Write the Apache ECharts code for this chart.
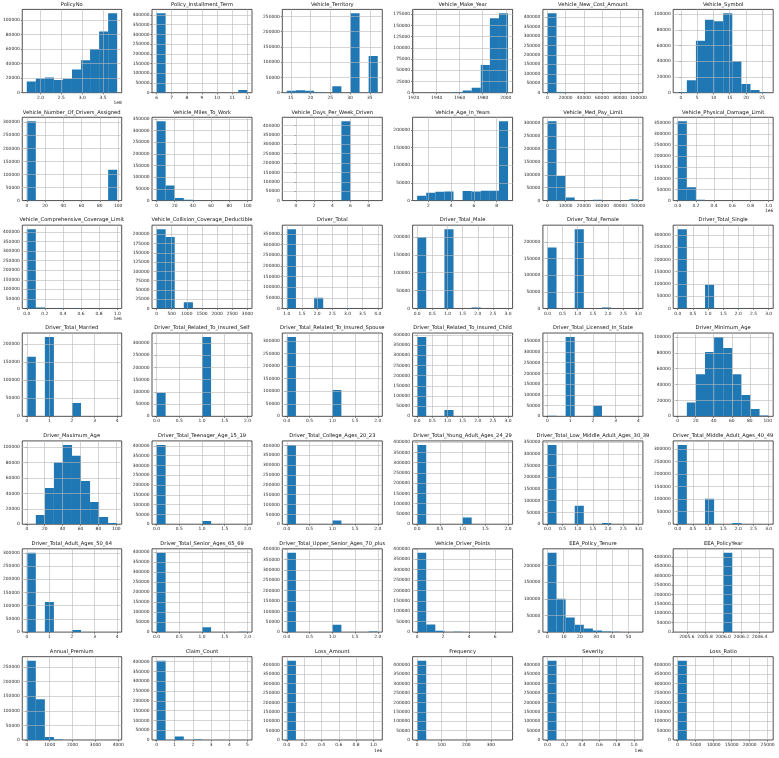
<!DOCTYPE html>
<html><head><meta charset="utf-8">
<script src="https://cdn.jsdelivr.net/npm/echarts@6/dist/echarts.min.js"></script>
<style>html,body{margin:0;padding:0;background:#fff}#c{width:779px;height:758px}</style>
</head><body><div id="c"></div>
<script>
const titles = ['PolicyNo','Policy_Installment_Term','Vehicle_Territory','Vehicle_Make_Year','Vehicle_New_Cost_Amount','Vehicle_Symbol',
'Vehicle_Number_Of_Drivers_Assigned','Vehicle_Miles_To_Work','Vehicle_Days_Per_Week_Driven','Vehicle_Age_In_Years','Vehicle_Med_Pay_Limit','Vehicle_Physical_Damage_Limit',
'Vehicle_Comprehensive_Coverage_Limit','Vehicle_Collision_Coverage_Deductible','Driver_Total','Driver_Total_Male','Driver_Total_Female','Driver_Total_Single',
'Driver_Total_Married','Driver_Total_Related_To_Insured_Self','Driver_Total_Related_To_Insured_Spouse','Driver_Total_Related_To_Insured_Child','Driver_Total_Licensed_In_State','Driver_Minimum_Age',
'Driver_Maximum_Age','Driver_Total_Teenager_Age_15_19','Driver_Total_College_Ages_20_23','Driver_Total_Young_Adult_Ages_24_29','Driver_Total_Low_Middle_Adult_Ages_30_39','Driver_Total_Middle_Adult_Ages_40_49',
'Driver_Total_Adult_Ages_50_64','Driver_Total_Senior_Ages_65_69','Driver_Total_Upper_Senior_Ages_70_plus','Vehicle_Driver_Points','EEA_Policy_Tenure','EEA_PolicyYear',
'Annual_Premium','Claim_Count','Loss_Amount','Frequency','Severity','Loss_Ratio'];

// histogram range (first bin edge, last bin edge) for each column; 10 equal bins
const binLo = [1.67e8, 6, 14, 1923, 0, -1,
  0, 0, -1, 1, 0, 0,
  0, 0, 1, 0, 0, 0,
  0, 0, 0, 0, 0, 0,
  0, 0, 0, 0, 0, 0,
  0, 0, 0, 0, 0, 2005.5,
  0, 0, 0, 0, 0, 0];
const binHi = [3.84e8, 12, 37, 2002, 100000, 27,
  99, 100, 9, 9, 50000, 1e6,
  1e6, 3000, 4, 3, 3, 3,
  4, 2, 2, 3, 4, 101,
  101, 2, 2, 2, 3, 3,
  4, 2, 2, 7, 56, 2006.5,
  3950, 5, 1.05e6, 370, 1.05e6, 25300];

const counts = [
  [15500,19500,21000,17500,19000,32000,44500,60000,84000,109000],
  [408000,0,0,0,0,0,0,0,0,14000],
  [6000,8000,6000,1500,0,21000,0,260000,0,120000],
  [50,50,50,100,1000,5000,11000,62000,166000,177000],
  [419500,2000,300,100,0,0,50,0,0,50],
  [1000,16000,66000,93000,91000,101000,40000,11000,3500,500],
  [304000,0,0,0,0,0,0,0,0,118000],
  [340000,65000,11000,3500,1500,600,200,100,50,50],
  [0,0,0,0,0,0,422000,0,0,0],
  [14000,22000,25000,26000,0,27000,26000,28000,28000,225000],
  [308000,95000,12000,0,0,3000,0,0,0,5000],
  [358000,60000,4000,300,100,50,0,0,0,20],
  [415000,5500,200,1000,100,700,0,0,0,100],
  [214000,193000,0,17000,0,0,0,0,0,0],
  [372000,0,0,50000,0,0,600,0,0,100],
  [199000,0,0,222000,0,0,2500,0,0,100],
  [183000,0,0,238000,0,0,3000,0,0,100],
  [324000,0,0,97000,0,0,1000,0,0,50],
  [165000,0,220000,0,0,37000,0,200,0,50],
  [97000,0,0,0,0,325000,0,0,0,300],
  [316000,0,0,0,0,105000,0,0,0,200],
  [390000,0,0,31000,0,0,800,0,0,100],
  [2500,0,370000,0,0,49000,0,500,0,100],
  [200,17500,53000,81000,100000,86000,53000,27000,9200,1200],
  [100,12000,47000,80000,103000,89000,56000,29000,9500,1500],
  [405000,0,0,0,0,17000,0,0,0,300],
  [403000,0,0,0,0,19000,0,0,0,300],
  [387000,0,0,0,0,33000,0,0,0,1500],
  [338000,0,0,79000,0,0,5000,0,0,200],
  [316000,0,0,101000,0,0,5000,0,0,100],
  [300000,0,114000,0,0,8000,0,100,0,50],
  [397000,0,0,0,0,24000,0,0,0,1500],
  [383000,0,0,0,0,36000,0,0,0,2500],
  [381000,36000,6000,0,2000,500,0,100,0,50],
  [238000,100000,44000,22000,11000,5000,2000,800,300,100],
  [0,0,0,0,0,422000,0,0,0,0],
  [272000,140000,10000,1500,300,100,50,20,10,10],
  [405000,0,18000,0,2000,0,300,0,50,10],
  [422000,50,20,10,0,0,0,0,0,10],
  [422000,50,20,10,0,0,0,0,0,10],
  [422000,50,20,10,0,0,0,0,0,10],
  [422000,30,10,0,0,0,0,0,0,10]
];

const xTicks = [
  [2.0e8,2.5e8,3.0e8,3.5e8],[6,7,8,9,10,11,12],[15,20,25,30,35],[1920,1940,1960,1980,2000],[0,20000,40000,60000,80000,100000],[0,5,10,15,20,25],
  [0,20,40,60,80,100],[0,20,40,60,80,100],[0,2,4,6,8],[2,4,6,8],[0,10000,20000,30000,40000,50000],[0,2e5,4e5,6e5,8e5,1e6],
  [0,2e5,4e5,6e5,8e5,1e6],[0,500,1000,1500,2000,2500,3000],[1,1.5,2,2.5,3,3.5,4],[0,0.5,1,1.5,2,2.5,3],[0,0.5,1,1.5,2,2.5,3],[0,0.5,1,1.5,2,2.5,3],
  [0,1,2,3,4],[0,0.5,1,1.5,2],[0,0.5,1,1.5,2],[0,0.5,1,1.5,2,2.5,3],[0,1,2,3,4],[0,20,40,60,80,100],
  [0,20,40,60,80,100],[0,0.5,1,1.5,2],[0,0.5,1,1.5,2],[0,0.5,1,1.5,2],[0,0.5,1,1.5,2,2.5,3],[0,0.5,1,1.5,2,2.5,3],
  [0,1,2,3,4],[0,0.5,1,1.5,2],[0,0.5,1,1.5,2],[0,2,4,6],[0,10,20,30,40,50],[2005.6,2005.8,2006.0,2006.2,2006.4],
  [0,1000,2000,3000,4000],[0,1,2,3,4,5],[0,2e5,4e5,6e5,8e5,1e6],[0,100,200,300],[0,2e5,4e5,6e5,8e5,1e6],[0,5000,10000,15000,20000,25000]
];

const yStep = [20000,50000,50000,25000,50000,20000,
  50000,50000,50000,50000,50000,50000,
  50000,25000,50000,50000,50000,50000,
  50000,50000,50000,50000,50000,20000,
  20000,50000,50000,50000,50000,50000,
  50000,50000,50000,50000,50000,50000,
  50000,50000,50000,50000,50000,50000];

// axis offset multiplier shown at the end of the x axis
const xScale = [1e8,1,1,1,1,1, 1,1,1,1,1,1e6, 1e6,1,1,1,1,1, 1,1,1,1,1,1, 1,1,1,1,1,1, 1,1,1,1,1,1, 1,1,1e6,1,1e6,1];
const scaleText = {1e8: '1e8', 1e6: '1e6'};

// ---- layout ----
const COLS = 6, LEFT0 = 21.7, STEP_X = 130.3, PW = 100, TOP0 = 9.4, STEP_Y = 107.88, PH = 83.3;
const FONT = 'DejaVu Sans';
const TICK_FS = 4.4, TITLE_FS = 5.2;
const GRID_LINE = {color: '#b8b8b8', width: 0.6, type: 'solid'};

const grids = [], xAxes = [], yAxes = [], series = [], titleOpts = [], graphics = [];

function renderBar(params, api) {
  const c = api.value(2);
  if (!c) return null;
  const a = api.coord([api.value(0), c]);
  const b = api.coord([api.value(1), 0]);
  return {type: 'rect', shape: {x: a[0], y: a[1], width: b[0] - a[0], height: b[1] - a[1]},
          style: {fill: '#1f77b4'}};
}

titles.forEach((t, i) => {
  const col = i % COLS, row = Math.floor(i / COLS);
  const left = LEFT0 + col * STEP_X, top = TOP0 + row * STEP_Y;
  grids.push({left: left, top: top, width: PW, height: PH, show: true,
    borderColor: '#262626', borderWidth: 0.8, backgroundColor: 'transparent', containLabel: false});
  const lo = binLo[i], hi = binHi[i], R = hi - lo, w = R / 10;
  const s = xScale[i];
  const ticks = xTicks[i];
  const step = (ticks[1] - ticks[0]) / s;
  const dec = Math.max(0, -Math.floor(Math.log10(step) + 1e-9));
  xAxes.push({gridIndex: i, type: 'value', min: lo - 0.05 * R, max: hi + 0.05 * R, z: 3,
    axisLine: {show: false},
    axisTick: {show: true, length: 1.6, customValues: ticks, lineStyle: {color: '#333', width: 0.6}},
    axisLabel: {customValues: ticks, fontSize: TICK_FS, fontFamily: FONT, color: '#262626', margin: 3,
      formatter: v => (v / s).toFixed(dec)},
    splitLine: {show: false}
  });
  const cmax = Math.max.apply(null, counts[i]);
  const ymax = cmax * 1.05;
  const yt = [];
  for (let v = 0; v <= ymax + 1e-6; v += yStep[i]) yt.push(v);
  yAxes.push({gridIndex: i, type: 'value', min: 0, max: ymax, z: 3,
    axisLine: {show: false},
    axisTick: {show: true, length: 1.6, customValues: yt, lineStyle: {color: '#333', width: 0.6}},
    axisLabel: {customValues: yt, fontSize: TICK_FS, fontFamily: FONT, color: '#262626', margin: 2.5,
      formatter: v => String(Math.round(v))},
    splitLine: {show: false}
  });
  // grid lines at the tick values, drawn above the bars like matplotlib's grid
  const gridData = ticks.map(v => ({xAxis: v})).concat(yt.filter(v => v > 0).map(v => ({yAxis: v})));
  series.push({type: 'custom', xAxisIndex: i, yAxisIndex: i, renderItem: renderBar, clip: true,
    encode: {x: [0, 1], y: 2}, silent: true,
    data: counts[i].map((c, k) => [lo + k * w, lo + (k + 1) * w, c]),
    markLine: {silent: true, symbol: ['none', 'none'], label: {show: false}, animation: false,
      lineStyle: GRID_LINE, emphasis: {disabled: true}, data: gridData}
  });
  titleOpts.push({text: t, left: left + PW / 2, top: top - 7.6, textAlign: 'center', padding: 0,
    textStyle: {fontSize: TITLE_FS, fontWeight: 'normal', color: '#111', fontFamily: FONT}});
  if (s !== 1) {
    graphics.push({type: 'text', x: left + PW, y: top + PH + 8.6,
      style: {text: scaleText[s], fontSize: TICK_FS, fontFamily: FONT, fill: '#262626', align: 'right', verticalAlign: 'top'}});
  }
});

const chart = echarts.init(document.getElementById('c'), null, {renderer: 'canvas'});
chart.setOption({
  backgroundColor: '#ffffff',
  animation: false,
  title: titleOpts,
  grid: grids,
  xAxis: xAxes,
  yAxis: yAxes,
  series: series,
  graphic: graphics
});
</script>
</body></html>
